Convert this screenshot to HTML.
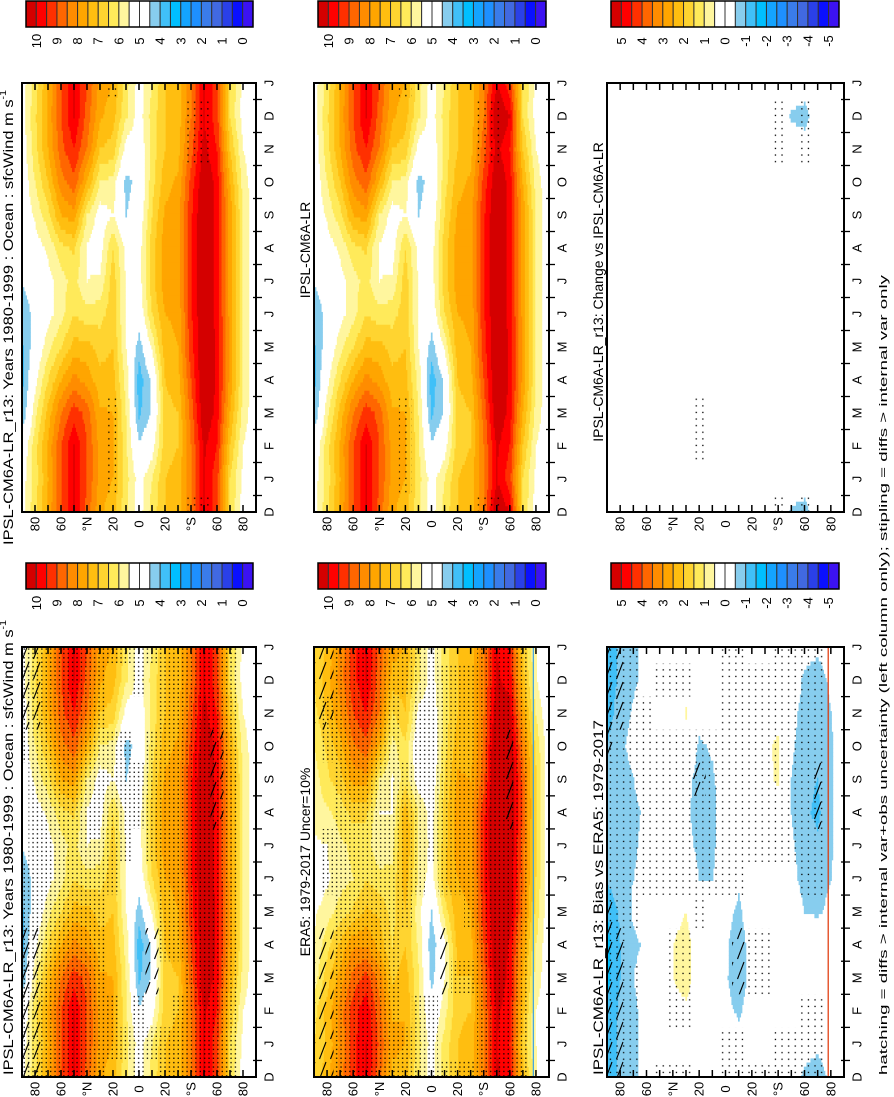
<!DOCTYPE html>
<html><head><meta charset="utf-8">
<style>
html,body{margin:0;padding:0;background:#fff;}
svg{display:block;font-family:"Liberation Sans",sans-serif;}
</style></head>
<body>
<svg id="fig" width="894" height="1097" viewBox="0 0 894 1097" xmlns="http://www.w3.org/2000/svg">
<defs>
<pattern id="stipDense" patternUnits="userSpaceOnUse" width="4.4" height="4.4"><rect x="1.6" y="1.6" width="1.3" height="1.3" fill="#000"/></pattern>
<pattern id="stipSparse" patternUnits="userSpaceOnUse" width="6.6" height="6.6"><rect x="2.6" y="2.6" width="1.3" height="1.3" fill="#000"/></pattern>
<pattern id="hatch" patternUnits="userSpaceOnUse" width="11" height="20"><line x1="0.5" y1="19" x2="7" y2="2" stroke="#000" stroke-width="1.1"/></pattern>
</defs>
<g id="panels"></g>
<g id="texts"></g>
</svg>
<script>
// ---- data ----
const lats = [90,80,70,60,50,40,30,20,10,0,-10,-20,-30,-40,-50,-60,-70,-80,-90];
const monthLabels = ["D","J","F","M","A","M","J","J","A","S","O","N","D","J"];
const latTickLabels = ["80","60","°N","20","0","20","°S","60","80"];
const latTickValues = [80,60,40,20,0,-20,-40,-60,-80];
const windTicks = ["10","9","8","7","6","5","4","3","2","1","0"];
const diffTicks = ["5","4","3","2","1","0","-1","-2","-3","-4","-5"];
const modelR13 = [
 [5.2,4.9,4.0,3.8,3.9,4.0,4.6,5.0,5.0,5.0,5.1,5.2],
 [6.2,6.3,5.8,5.3,4.9,4.8,5.0,5.2,5.6,6.0,6.3,6.4],
 [7.5,7.6,7.2,6.5,5.8,5.3,5.3,5.6,6.3,7.0,7.5,7.6],
 [9.0,9.0,8.5,7.5,6.5,5.8,5.8,6.3,7.5,8.3,8.8,9.0],
 [10.0,10.0,9.3,8.2,7.2,6.5,6.2,6.6,7.8,8.8,9.5,10.0],
 [9.0,9.0,8.8,7.8,7.2,6.2,5.5,5.4,6.0,7.5,8.5,8.8],
 [7.8,7.8,7.6,7.2,6.8,6.3,5.6,5.2,5.2,6.0,7.0,7.6],
 [7.5,7.6,7.5,7.2,7.0,6.8,6.8,6.5,5.5,5.8,6.8,7.2],
 [6.2,6.1,6.0,5.8,5.5,5.4,5.4,5.3,4.5,4.3,5.2,6.1],
 [5.2,4.6,3.9,3.7,4.2,5.0,5.2,5.2,5.0,4.8,5.0,5.2],
 [6.0,5.2,4.6,4.6,5.6,6.5,6.8,6.8,6.5,6.3,6.2,6.2],
 [7.0,6.8,6.8,7.0,7.3,7.5,7.8,7.8,7.6,7.3,7.0,7.0],
 [7.2,7.0,7.0,7.3,7.5,7.6,7.8,7.8,7.8,7.6,7.3,7.2],
 [8.5,8.5,8.7,9.0,9.3,9.4,9.5,9.5,9.4,9.2,8.8,8.5],
 [10.0,10.1,10.5,10.6,10.6,10.6,10.6,10.7,10.6,10.5,10.2,10.0],
 [9.2,9.5,9.8,9.9,9.9,9.8,9.8,9.8,9.8,9.8,9.5,9.2],
 [6.5,7.0,7.5,7.8,7.8,7.8,7.8,7.8,7.8,7.5,7.0,6.5],
 [5.3,5.5,5.8,6.0,6.0,6.0,6.0,6.0,6.0,5.8,5.5,5.2],
 [5.0,5.0,5.0,5.0,5.0,5.0,5.0,5.0,5.0,5.0,4.9,4.6]
];
const changeVsEnsemble = [
 [0,0,0,0,0,0,0,0,0,0,0,0],[0,0,0,0,0,0,0,0,0,0,0,0],[0,0,0,0,0,0,0,0,0,0,0,0],
 [0,0,0,0,0,0,0,0,0,0,0,0],[0,0,0,0,0,0,0,0,0,0,0,0],[0,0,0,0,0,0,0,0,0,0,0,0],
 [0,0,0,0,0,0,0,0,0,0,0,0],[0,0,0,0,0,0,0,0,0,0,0,0],[0,0,0,0,0,0,0,0,0,0,0,0],
 [0,0,0,0,0,0,0,0,0,0,0,0],[0,0,0,0,0,0,0,0,0,0,0,0],[0,0,0,0,0,0,0,0,0,0,0,0],
 [0,0,0,0,0,0,0,0,0,0,0,0],[0,0,0,0,0,0,0,0,0,0,0,0],[0,0,0,0,0,0,0,0,0,0,0,-0.6],
 [0,0,0,0,0,0,0,0,0,0,0,-0.8],[0,0,0,0,0,0,0,0,0,0,0,0],[0,0,0,0,0,0,0,0,0,0,0,0],
 [0,0,0,0,0,0,0,0,0,0,0,0]
];
const biasVsEra5 = [
 [-1.3,-1.4,-1.7,-1.7,-1.5,-0.9,-0.8,-0.7,-0.7,-1.0,-1.2,-1.3],
 [-0.9,-0.9,-1.0,-1.0,-0.9,-0.6,-0.5,-0.7,-0.8,-0.6,-0.8,-0.9],
 [-0.6,-0.6,-0.5,-0.6,-0.4,-0.5,-0.6,-0.6,-0.5,-0.3,-0.4,-0.6],
 [-0.3,-0.3,-0.2,-0.4,-0.1,-0.2,-0.3,-0.4,-0.2,-0.1,-0.2,-0.3],
 [0,0.1,0.1,0.2,0.1,0,0,0,0,0,0,0],
 [0.1,0.3,0.5,0.5,0.3,0,-0.1,-0.1,0,0,0,0.1],
 [0.1,0.4,0.7,0.7,0.5,0.1,-0.2,-0.3,-0.2,0.2,0.55,0.3],
 [0,0.1,0.2,0.2,0,-0.5,-0.7,-0.9,-0.8,-0.6,-0.2,0],
 [0,0,-0.1,-0.1,-0.2,-0.5,-0.6,-0.7,-0.6,-0.4,-0.1,0],
 [0,-0.3,-0.4,-0.4,-0.3,-0.2,-0.1,0,0,0,0,0],
 [-0.2,-0.6,-0.9,-0.8,-0.6,-0.4,0,0,0,0,0,0],
 [0,-0.1,-0.2,-0.2,-0.1,0,0,0,0,0,0,0],
 [0,0,0,0,0,0,0,0,0.3,0.4,0.2,0],
 [0,0,0,0,0,0,0,0.2,0.6,0.6,0.3,0],
 [0,0,0,0,-0.1,-0.3,-0.4,-0.5,-0.5,-0.4,-0.3,-0.1],
 [-0.3,-0.2,0,0,-0.5,-0.7,-0.8,-0.9,-0.9,-0.8,-0.7,-0.6],
 [-0.4,-0.2,0,0,-0.6,-0.8,-0.9,-1.1,-1.0,-0.9,-0.8,-0.7],
 [-0.2,0,0,0,-0.3,-0.5,-0.6,-0.6,-0.6,-0.6,-0.5,-0.4],
 [0,0,0,0,0,0,0,0,0,0,0,0]
];
const stipTopModel = ["000000000000","000000000000","000000000000","000000000000","000000000000","000000000000","000000000000","111000000000","000000000000","000000000000","000000000000","000000000000","000000000000","000000000011","000000000011","000000000000","000000000000","000000000000","000000000000"];
const stipTopChange = ["000000000000","000000000000","000000000000","000000000000","000000000000","000000000000","000000000000","011000000000","000000000000","000000000000","000000000000","000000000000","000000000000","000000000011","000000000000","000000000011","000000000000","000000000000","000000000000"];
const stipBottomModel = ["111111000111","111111111111","111111111111","111111111111","111111111111","111111111111","111111111111","110001111100","100000111100","110000011001","100000111100","100111111111","110111111111","111111111111","111111111111","111111111111","111111111111","000000000000","000000000000"];
const stipEra5 = ["000000000000","000001100110","111111111111","111111111111","111111111111","111111111111","111111111111","100011111001","110001111111","110000111111","000001111111","001001111111","001011111111","111111111111","111111111111","111111111111","111111111111","000000000000","000000000000"];
const stipBias = ["111111111111","111111111111","111011111111","000001111110","000001111101","011101111101","011101111101","000011111100","000001111100","100001111111","100001111111","001100111111","001100111111","100000111111","100000111111","110001111111","110001111111","000000000000","000000000000"];
const hatchLeft = ["111100000011","111100000011","000000000000","000000000000","000000000000","000000000000","000000000000","000000000000","000000000000","000000000000","001100000000","000000000000","000000000000","000000000000","000000000000","000000011100","000000000000","000000000000","000000000000"];
const hatchBias = ["111110000111","111100000011","000000000000","000000000000","000000000000","000000000000","000000000000","000000001000","000000000000","000000000000","001100000000","000000000000","000000000000","000000000000","000000000000","000000000000","000000011000","000000000000","000000000000"];

// ---- styling ----
const palette = ["#d40000","#ff0000","#ff3000","#ff6600","#ff8c00","#ffa500","#ffbe10","#ffd430","#ffea5a","#fff69e","#ffffff","#ffffff","#87cdee","#40c0f8","#00bfff","#14a4ff","#1e90ff","#3a7cea","#4169e1","#2a40e8","#0a10ff","#3c12f2"];
const SVGNS = "http://www.w3.org/2000/svg";
const root = document.getElementById('panels');
const texts = document.getElementById('texts');
function mk(tag, attrs, parent){ const e=document.createElementNS(SVGNS,tag); for(const k in attrs) e.setAttribute(k,attrs[k]); parent.appendChild(e); return e; }

const era5 = modelR13.map((row,i)=>row.map((v,j)=>v - biasVsEra5[i][j]));
const ensemble = modelR13.map((row,i)=>row.map((v,j)=>v - changeVsEnsemble[i][j]));

function level(v, top){ if(v>=top) return 0; return Math.min(21, 1+Math.floor((top-v)/0.5)); }
function monthCol(p){ if(p<=0) return 11; if(p>=13) return 0; return p-1; }
function sample(grid, li, p){
  const i0=Math.max(0,Math.min(17,Math.floor(li))); const fi=li-i0;
  const p0=Math.max(0,Math.min(12,Math.floor(p))); const fp=p-p0;
  const a=grid[i0][monthCol(p0)], b=grid[i0+1][monthCol(p0)], c=grid[i0][monthCol(p0+1)], d=grid[i0+1][monthCol(p0+1)];
  return (a*(1-fi)+b*fi)*(1-fp)+(c*(1-fi)+d*fi)*fp;
}

const cols = [{l:22,r:256,tx:8},{l:314,r:549,tx:305},{l:607,r:844,tx:598}];
const rows = [{t:83,b:512,cb:1},{t:647,b:1077,cb:563}];

const panels = [
 {name:'model-r13-climatology-panel', c:0, r:0, grid:modelR13, top:10, stip:stipTopModel, sp:'stipSparse', title:'IPSL-CM6A-LR_r13: Years 1980-1999 : Ocean : sfcWind m s', sup:true, anchor:'start', ty:545, tl:455},
 {name:'ensemble-climatology-panel', c:1, r:0, grid:ensemble, top:10, stip:stipTopModel, sp:'stipSparse', title:'IPSL-CM6A-LR', anchor:'middle', ty:250},
 {name:'change-vs-ensemble-panel', c:2, r:0, grid:changeVsEnsemble, top:5, stip:stipTopChange, sp:'stipSparse', title:'IPSL-CM6A-LR_r13: Change vs IPSL-CM6A-LR', anchor:'middle', ty:292},
 {name:'model-r13-vs-obs-panel', c:0, r:1, grid:modelR13, top:10, stip:stipBottomModel, sp:'stipDense', hatch:hatchLeft, title:'IPSL-CM6A-LR_r13: Years 1980-1999 : Ocean : sfcWind m s', sup:true, anchor:'start', ty:1075, tl:455},
 {name:'era5-climatology-panel', c:1, r:1, grid:era5, top:10, stip:stipEra5, sp:'stipDense', hatch:hatchLeft, title:'ERA5: 1979-2017 Uncer=10%', anchor:'middle', ty:862, edge:'#3aa0e0'},
 {name:'bias-vs-era5-panel', c:2, r:1, grid:biasVsEra5, top:5, stip:stipBias, sp:'stipSparse', hatch:hatchBias, title:'IPSL-CM6A-LR_r13: Bias vs ERA5: 1979-2017', anchor:'start', ty:1075, tl:355, edge:'#e03000'}
];

panels.forEach(P=>{
  const C=cols[P.c], R=rows[P.r];
  const W=C.r-C.l, H=R.b-R.t;
  const xOf = lat => C.l + (90-lat)/180*W;
  const yOf = p => R.b - p/13*H;
  const g = mk('g',{},root);
  
  
  const field = mk('g',{},g);
  
  
  const NR=104;
  for(let rr=0; rr<=NR; rr++){
    const p=rr/8;
    const y0=yOf(Math.min(13,p+1/16)), y1=yOf(Math.max(0,p-1/16));
    let runStart=0, runLvl=-1;
    for(let li=0; li<=181; li++){
      let lv=-2;
      if(li<=180){ lv=level(sample(P.grid, li/10, p), P.top); }
      if(lv!==runLvl){
        if(runLvl>=0 && palette[runLvl]!=="#ffffff"){
          const latA=90-Math.max(0,runStart-0.5), latB=90-Math.min(180,li-0.5);
          const rc=mk('rect',{x:xOf(latA).toFixed(2), y:y0.toFixed(2), width:(xOf(latB)-xOf(latA)+0.4).toFixed(2), height:(y1-y0+0.4).toFixed(2), fill:palette[runLvl]},field);
          
          
        }
        runLvl=lv; runStart=li;
      }
    }
  }
  const ov = mk('g',{},g);
  
  
  function drawMask(mask, fill){
    mask.forEach((rowStr,i)=>{
      for(let m=0;m<12;m++){
        if(rowStr[m]!=='1') continue;
        const poss = [m+1]; if(m===11) poss.push(0); if(m===0) poss.push(13);
        poss.forEach(pp=>{
          const la=Math.min(90,lats[i]+5), lb=Math.max(-90,lats[i]-5);
          const pa=Math.max(0,pp-0.5), pb=Math.min(13,pp+0.5);
          const rc=mk('rect',{x:xOf(la), y:yOf(pb), width:xOf(lb)-xOf(la), height:yOf(pa)-yOf(pb), fill:fill},ov);
          
          
        });
      }
    });
  }
  drawMask(P.stip, 'url(#'+P.sp+')');
  if(P.hatch) drawMask(P.hatch, 'url(#hatch)');
  if(P.edge){
    const ln=mk('line',{x1:xOf(-78),x2:xOf(-78),y1:R.t,y2:R.b,stroke:P.edge,'stroke-width':1.2},g);
    
    
  }
  const fr=mk('rect',{x:C.l,y:R.t,width:W,height:H,fill:'none',stroke:'#000','stroke-width':2},g);
  
  
  for(let lat=80; lat>=-80; lat-=10){
    const x=xOf(lat);
    mk('line',{x1:x,x2:x,y1:R.t,y2:R.t+7,stroke:'#000','stroke-width':1.5},g);
    mk('line',{x1:x,x2:x,y1:R.b,y2:R.b-7,stroke:'#000','stroke-width':1.5},g);
  }
  latTickValues.forEach((lv,i)=>{
    const t=mk('text',{transform:`translate(${xOf(lv)},${R.b+12}) rotate(-90)`,'text-anchor':'middle','dominant-baseline':'central','font-size':13},g);
    t.textContent=latTickLabels[i];
    
    
  });
  for(let k=0;k<13;k++){
    const y=yOf(k+0.5);
    mk('line',{x1:C.r-3,x2:C.r+6,y1:y,y2:y,stroke:'#000','stroke-width':1.3},g);
  }
  monthLabels.forEach((ml,k)=>{
    const t=mk('text',{transform:`translate(${C.r+13},${yOf(k)}) rotate(-90)`,'text-anchor':'middle','dominant-baseline':'central','font-size':13},g);
    t.textContent=ml;
    
    
  });
  const ta={transform:`translate(${C.tx},${P.ty}) rotate(-90)`,'text-anchor':P.anchor,'dominant-baseline':'central','font-size':14};
  if(P.tl){ ta.textLength=P.tl; ta.lengthAdjust='spacingAndGlyphs'; }
  const tt=mk('text',ta,texts);
  tt.textContent=P.title;
  
  
  if(P.sup){ const s=mk('tspan',{dy:-5,'font-size':9},tt); s.textContent='-1'; }
});

[[0,0,10,windTicks],[1,0,10,windTicks],[2,0,5,diffTicks],[0,1,10,windTicks],[1,1,10,windTicks],[2,1,5,diffTicks]].forEach(cb=>{
  const C=cols[cb[0]], R=rows[cb[1]];
  const x0=C.l+4, x1=C.r-(cb[0]===2?5:3), y0=R.cb, h=26;
  const bw=(x1-x0)/22;
  const g=mk('g',{},root);
  
  
  palette.forEach((col,i)=>{
    const r=mk('rect',{x:x0+i*bw,y:y0,width:bw,height:h,fill:col,stroke:'#333','stroke-width':1},g);
    
    
  });
  mk('rect',{x:x0,y:y0,width:x1-x0,height:h,fill:'none',stroke:'#000','stroke-width':1.5},g);
  cb[3].forEach((lab,i)=>{
    const t=mk('text',{transform:`translate(${x0+bw*(1+2*i)},${y0+h+14}) rotate(-90)`,'text-anchor':'middle','dominant-baseline':'central','font-size':13},g);
    t.textContent=lab;
    
    
  });
});

const foot=mk('text',{transform:'translate(884,675) rotate(-90)','text-anchor':'middle','dominant-baseline':'central','font-size':11,textLength:800,lengthAdjust:'spacingAndGlyphs'},texts);
foot.textContent='hatching = diffs > internal var+obs uncertainty (left column only); stipling = diffs > internal var only';


</script>
</body></html>
